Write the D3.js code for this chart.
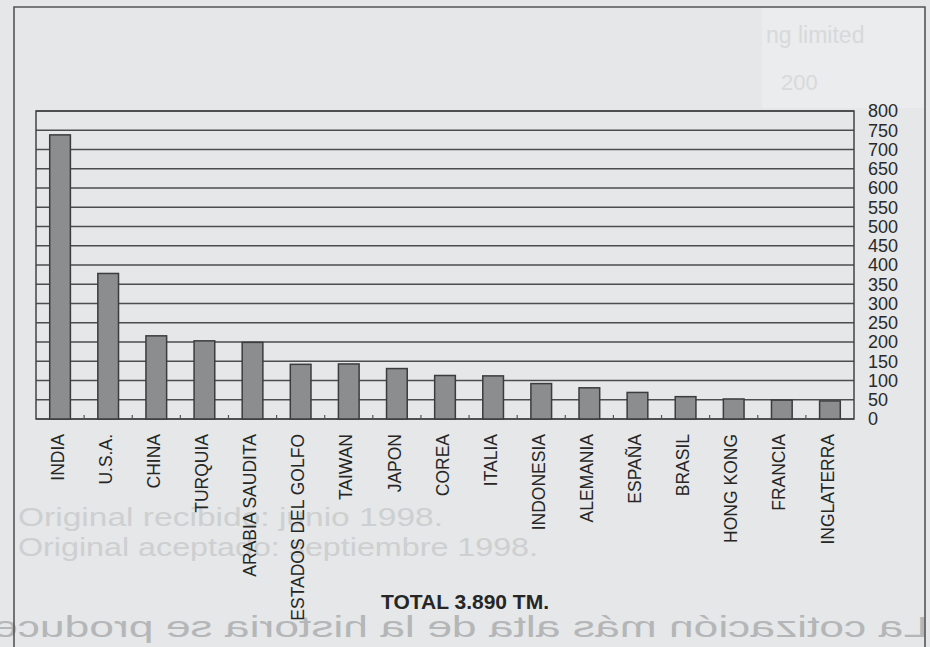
<!DOCTYPE html>
<html>
<head>
<meta charset="utf-8">
<script src="https://cdn.jsdelivr.net/npm/d3@7"></script>
<style>
  html, body { margin: 0; padding: 0; background: #e5e7e8; }
  svg { display: block; }
</style>
</head>
<body>
<svg id="chart" width="930" height="647"></svg>
<script>
// Gold consumption by country (tonnes)
const countries = [
  "INDIA", "U.S.A.", "CHINA", "TURQUIA", "ARABIA SAUDITA", "ESTADOS DEL GOLFO",
  "TAIWAN", "JAPON", "COREA", "ITALIA", "INDONESIA", "ALEMANIA", "ESPAÑA",
  "BRASIL", "HONG KONG", "FRANCIA", "INGLATERRA"
];
const tonnes = [738, 378, 216, 203, 199, 142, 143, 131, 113, 112, 92, 81, 69, 58, 52, 49, 47];
const yTicks = [0, 50, 100, 150, 200, 250, 300, 350, 400, 450, 500, 550, 600, 650, 700, 750, 800];
const totalLabel = "TOTAL 3.890 TM.";

// Text from the surrounding printed page
const pageLines = ["Original recibido: junio 1998.", "Original aceptado: septiembre 1998."];
const reverseLine = "La cotización más alta de la historia se produce";
const cornerLines = ["ng limited", "200"];

const svg = d3.select("#chart");
const W = 930, H = 647;
const plot = { left: 36, right: 854, top: 111, bottom: 419 };

// page background and the lighter patch in the upper right
svg.append("rect").attr("width", W).attr("height", H).attr("fill", "#e5e7e8");
svg.append("rect").attr("x", 762).attr("y", 8).attr("width", 162).attr("height", 100)
  .attr("fill", "#eaeced");

// faint print from the facing page
const ghost = svg.append("g").attr("font-family", "'Liberation Sans', Arial, sans-serif");
ghost.append("text").attr("x", 766).attr("y", 43).attr("font-size", 23)
  .attr("fill", "#d7d9da").text(cornerLines[0]);
ghost.append("text").attr("x", 781).attr("y", 90).attr("font-size", 22)
  .attr("fill", "#d8dadb").text(cornerLines[1]);
ghost.selectAll("text.page").data(pageLines).join("text")
  .attr("class", "page")
  .attr("x", 18)
  .attr("y", (d, i) => 526 + i * 30)
  .attr("font-size", 25)
  .attr("fill", "#cdcfd1")
  .attr("textLength", (d, i) => i === 0 ? 425 : 520)
  .attr("lengthAdjust", "spacingAndGlyphs")
  .text(d => d);
ghost.append("text")
  .attr("transform", "translate(928,0) scale(-1,1)")
  .attr("x", 0).attr("y", 637)
  .attr("font-size", 29)
  .attr("fill", "#b4b6b8")
  .attr("textLength", 935)
  .attr("lengthAdjust", "spacingAndGlyphs")
  .text(reverseLine);

// outer frame of the figure
svg.append("path")
  .attr("d", `M14,${H + 2} V7 H925 V${H + 2}`)
  .attr("fill", "none").attr("stroke", "#555").attr("stroke-width", 1.6);

// scales
const x = d3.scaleBand()
  .domain(countries)
  .range([plot.left, plot.right])
  .paddingInner(0.57)
  .paddingOuter(0.285);
const y = d3.scaleLinear().domain([0, 800]).range([plot.bottom, plot.top]);

// horizontal gridlines
svg.append("g").selectAll("line").data(yTicks).join("line")
  .attr("x1", plot.left).attr("x2", plot.right)
  .attr("y1", d => y(d)).attr("y2", d => y(d))
  .attr("stroke", "#4d4d4d").attr("stroke-width", 1.3);

// plot border
svg.append("rect")
  .attr("x", plot.left).attr("y", plot.top)
  .attr("width", plot.right - plot.left).attr("height", plot.bottom - plot.top)
  .attr("fill", "none").attr("stroke", "#444").attr("stroke-width", 1.5);

// bars
svg.append("g").selectAll("rect").data(countries).join("rect")
  .attr("x", d => x(d))
  .attr("y", (d, i) => y(tonnes[i]))
  .attr("width", x.bandwidth())
  .attr("height", (d, i) => y(0) - y(tonnes[i]))
  .attr("fill", "#8c8d8e")
  .attr("stroke", "#3c3c3c")
  .attr("stroke-width", 1.5);

// small category ticks between the bars
const step = x.step();
svg.append("g").selectAll("line").data(countries.slice(1)).join("line")
  .attr("x1", (d, i) => plot.left + (i + 1) * step)
  .attr("x2", (d, i) => plot.left + (i + 1) * step)
  .attr("y1", plot.bottom).attr("y2", plot.bottom - 4)
  .attr("stroke", "#555").attr("stroke-width", 1.2);

// right value axis (labels only)
const yAxis = d3.axisRight(y).tickValues(yTicks).tickSize(0).tickPadding(14);
const ya = svg.append("g")
  .attr("transform", `translate(${plot.right},0)`)
  .call(yAxis);
ya.select(".domain").remove();
ya.selectAll("text")
  .attr("font-family", "'Liberation Sans', Arial, sans-serif")
  .attr("font-size", 18)
  .attr("fill", "#2a2a2a");

// rotated country labels
svg.append("g").selectAll("text").data(countries).join("text")
  .attr("transform", d => `translate(${x(d) + x.bandwidth() / 2 - 2.5},434) rotate(-90)`)
  .attr("text-anchor", "end")
  .attr("dy", "0.35em")
  .attr("font-family", "'Liberation Sans', Arial, sans-serif")
  .attr("font-size", 17.5)
  .attr("fill", "#262626")
  .text(d => d);

// total
svg.append("text")
  .attr("x", 465).attr("y", 609)
  .attr("text-anchor", "middle")
  .attr("font-family", "'Liberation Sans', Arial, sans-serif")
  .attr("font-weight", "bold")
  .attr("font-size", 21)
  .attr("fill", "#262626")
  .text(totalLabel);
</script>
</body>
</html>
